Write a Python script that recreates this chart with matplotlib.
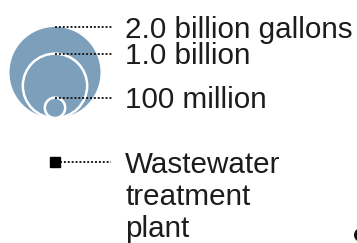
import numpy as np
import matplotlib
matplotlib.use('Agg')
import matplotlib.pyplot as plt
from matplotlib.patches import Circle

plt.rcParams['font.family'] = ['Liberation Sans', 'DejaVu Sans']

# bubble-size key (billion gallons)
volumes = [2.0, 1.0, 0.1]
size_labels = ['2.0 billion gallons', '1.0 billion', '100 million']
plant_lines = ['Wastewater', 'treatment', 'plant']

blue = '#7c9fbc'
ink = '#1c1c1c'

fig = plt.figure(figsize=(3.57, 2.43), dpi=100)
ax = fig.add_axes([0, 0, 1, 1])
ax.set_xlim(0, 357)
ax.set_ylim(243, 0)
ax.axis('off')

# circles share a common bottom, area proportional to volume
cx, bottom, rmax = 55, 118, 45.5
vmax = max(volumes)
for i, (v, lab) in enumerate(zip(volumes, size_labels)):
    r = rmax * np.sqrt(v / vmax)
    cy = bottom - r
    ec = 'none' if i == 0 else 'white'
    ax.add_patch(Circle((cx, cy), r, facecolor=blue, edgecolor=ec, lw=1.8))
    top = bottom - 2 * r
    ax.plot([cx, 112], [top, top], color=ink, lw=1.4, ls=(0, (1, 1)))
    ax.text(125, top + 10.5, lab, fontsize=21.3, color=ink, va='baseline', ha='left')

# plant symbol
py = 161.5
ax.plot([60, 111], [py, py], color=ink, lw=1.4, ls=(0, (1, 1)))
ax.plot([54.5], [py], marker='s', ms=6.5, color='black', mec='black')
for k, line in enumerate(plant_lines):
    ax.text(125, py + 11 + 32 * k, line, fontsize=21.3, color=ink,
            va='baseline', ha='left')

# edge of a neighbouring mark cut off at the right
ax.add_patch(Circle((361, 235), 7, facecolor='#111111', edgecolor='none'))

fig.savefig('out.png', dpi=100)
